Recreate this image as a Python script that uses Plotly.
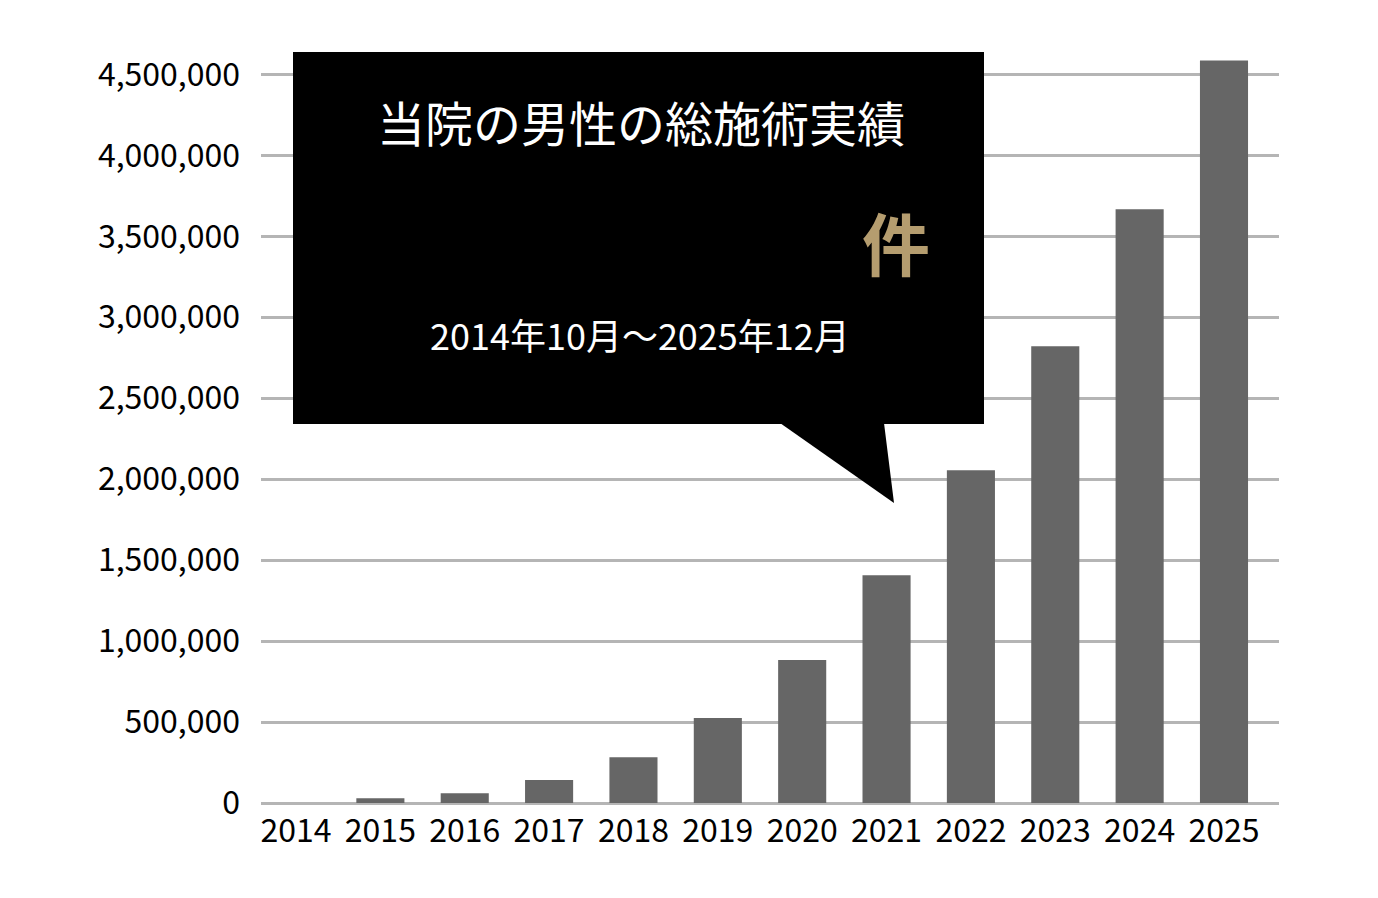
import plotly.graph_objects as go

# =================================================================================
# Yearly totals
# =================================================================================

years = ["2014", "2015", "2016", "2017", "2018", "2019",
         "2020", "2021", "2022", "2023", "2024", "2025"]
totals = [0, 30000, 60000, 142000, 282000, 525000,
          883000, 1407000, 2055000, 2821000, 3667000, 4586000]

y_ticks = list(range(0, 4500001, 500000))
y_tick_labels = ["{:,}".format(v) for v in y_ticks]

title_text = "当院の男性の総施術実績"
unit_text = "件"
period_text = "2014年10月～2025年12月"

# =================================================================================
# Page geometry (pixels) - the page body adds an 8px offset
# =================================================================================

OFF = 8
W, H = 1378 - OFF, 898 - OFF
ML, MR, MT, MB = 261 - OFF, 99, 42 - OFF, 95
PW, PH = W - ML - MR, H - MT - MB


def px(x):
    # page pixel -> paper x
    return (x - OFF - ML) / PW


def py(y):
    # page pixel -> paper y
    return (H - MB - (y - OFF)) / PH


FONT = "Noto Sans CJK JP"

fig = go.Figure()

fig.add_trace(
    go.Bar(
        x=years,
        y=totals,
        marker_color="#666666",
        marker_line_width=0,
        hoverinfo="x+y",
    )
)

fig.update_layout(
    width=W,
    height=H,
    margin=dict(l=ML, r=MR, t=MT, b=MB, pad=0),
    paper_bgcolor="white",
    plot_bgcolor="white",
    showlegend=False,
    bargap=0.43,
    font=dict(family=FONT, color="#000000", size=32),
    xaxis=dict(
        type="category",
        range=[-0.415, 11.652],
        showgrid=False,
        showline=False,
        zeroline=False,
        ticks="",
        ticklabelstandoff=6,
        tickfont=dict(family=FONT, size=32, color="#000000"),
    ),
    yaxis=dict(
        range=[0, 4700000],
        tickvals=y_ticks,
        ticktext=y_tick_labels,
        showgrid=True,
        gridcolor="#b5b5b5",
        gridwidth=3,
        zeroline=True,
        zerolinecolor="#b5b5b5",
        zerolinewidth=3,
        showline=False,
        ticks="",
        ticklabelstandoff=20,
        tickfont=dict(family=FONT, size=32, color="#000000"),
    ),
)

# Callout box + pointer
fig.add_shape(
    type="rect", xref="paper", yref="paper",
    x0=px(293), x1=px(984), y0=py(424), y1=py(52),
    fillcolor="black", line_width=0, layer="above",
)
fig.add_shape(
    type="path", xref="paper", yref="paper",
    path="M {} {} L {} {} L {} {} Z".format(px(780), py(423), px(884), py(423), px(894), py(503)),
    fillcolor="black", line_width=0, layer="above",
)

fig.add_annotation(
    xref="paper", yref="paper", x=px(641), y=py(121),
    xanchor="center", yanchor="middle",
    text=title_text, showarrow=False,
    font=dict(family=FONT, size=48, color="white"),
)
fig.add_annotation(
    xref="paper", yref="paper", x=px(896), y=py(241),
    xanchor="center", yanchor="middle",
    text="<b>" + unit_text + "</b>", showarrow=False,
    font=dict(family=FONT, size=68, color="#b59d6f"),
)
fig.add_annotation(
    xref="paper", yref="paper", x=px(640), y=py(334),
    xanchor="center", yanchor="middle",
    text=period_text, showarrow=False,
    font=dict(family=FONT, size=36, color="white"),
)

fig.write_html("out.html")
